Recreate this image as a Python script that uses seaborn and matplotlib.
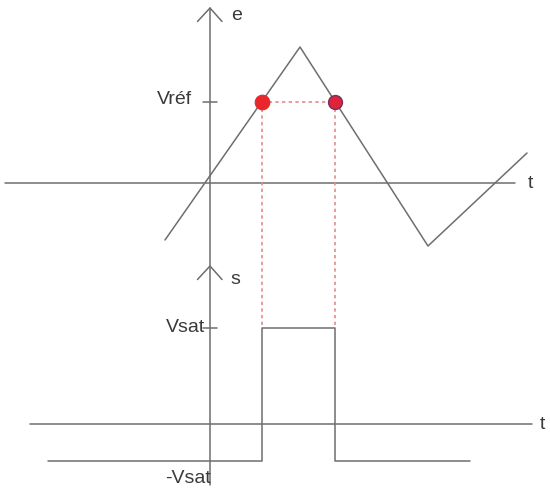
import numpy as np
import matplotlib
matplotlib.use("Agg")
import matplotlib.pyplot as plt
import seaborn as sns

# triangle input e(t)
tri_t = [-1.8, 3.6, 8.72, 12.68]
tri_e = [-2.28, 5.44, -2.52, 1.2]
v_ref = 3.24

# comparator output levels
v_sat = 3.84
v_sat_neg = -1.48
sq_t_start = -6.5
sq_t_end = 10.4

labels_top = ["e", "t", "Vréf"]
labels_bot = ["s", "t", "Vsat", "-Vsat"]

GRAY = "#6e6e6e"
TXT = "#3a3a3a"
RED = "#e8262c"
PINK = "#e58a8a"

TOP_YLIM = (-2.88, 7.32)
BOT_YLIM = (-2.64, 6.76)


def crossing_times():
    # where the triangle passes v_ref on the rising and falling edges
    t_on = np.interp(v_ref, tri_e[0:2], tri_t[0:2])
    t_off = np.interp(v_ref, tri_e[2:0:-1], tri_t[2:0:-1])
    return t_on, t_off


def draw_axes(ax, x0, x1, arrow_y, line_top, line_bot, tick_y, tlab_x):
    ax.plot([x0, x1], [0, 0], color=GRAY, lw=1.1)
    ax.plot([0, 0], [line_top, line_bot], color=GRAY, lw=1.1)
    ax.plot([-0.5, 0, 0.48], [arrow_y - 0.54, arrow_y, arrow_y - 0.54],
            color=GRAY, lw=1.1)
    ax.plot([-0.28, 0.28], [tick_y, tick_y], color=GRAY, lw=1.1)
    ax.text(tlab_x, 0, "t", ha="left", va="center", fontsize=14, color=TXT)


def main():
    sns.set_style("white")
    plt.rcParams["font.family"] = ["Liberation Sans", "DejaVu Sans"]

    fig = plt.figure(figsize=(5.5, 4.9), dpi=100)
    ax_top = fig.add_axes([0, 235 / 490, 1, 255 / 490])
    ax_bot = fig.add_axes([0, 0, 1, 235 / 490])
    for ax in (ax_top, ax_bot):
        ax.set_xlim(-8.4, 13.6)
        ax.set_axis_off()
    ax_top.set_ylim(*TOP_YLIM)
    ax_bot.set_ylim(*BOT_YLIM)

    t_on, t_off = crossing_times()

    # top: e(t)
    draw_axes(ax_top, -8.2, 12.2, 7.0, 7.0, TOP_YLIM[0], v_ref, 12.72)
    ax_top.text(0.84, 6.68, labels_top[0], ha="left", va="center",
                fontsize=14, color=TXT)
    ax_top.text(-0.72, v_ref + 0.1, labels_top[2], ha="right", va="center",
                fontsize=14, color=TXT)
    sns.lineplot(x=tri_t, y=tri_e, ax=ax_top, sort=False, estimator=None,
                 color=GRAY, lw=1.1)
    ax_top.plot([t_on, t_off], [v_ref, v_ref], color=PINK, lw=1.2,
                ls=(0, (2, 2)))
    for t in (t_on, t_off):
        ax_top.plot([t, t], [v_ref, TOP_YLIM[0]], color=PINK, lw=1.2,
                    ls=(0, (2, 2)))
    sns.scatterplot(x=[t_on], y=[v_ref], ax=ax_top, s=110, color=RED,
                    edgecolor=RED, zorder=5)
    sns.scatterplot(x=[t_off], y=[v_ref], ax=ax_top, s=100, color="#e0223a",
                    edgecolor="#74305e", linewidth=1, zorder=5)

    # bottom: s(t)
    draw_axes(ax_bot, -7.2, 12.88, 6.32, BOT_YLIM[1], -2.44, v_sat, 13.2)
    ax_bot.text(0.8, 5.76, labels_bot[0], ha="left", va="center",
                fontsize=14, color=TXT)
    ax_bot.text(-0.2, v_sat, labels_bot[2], ha="right", va="center",
                fontsize=14, color=TXT)
    ax_bot.text(-0.88, -2.16, labels_bot[3], ha="center", va="center",
                fontsize=14, color=TXT)
    for t in (t_on, t_off):
        ax_bot.plot([t, t], [BOT_YLIM[1], v_sat], color=PINK, lw=1.2,
                    ls=(0, (2, 2)))
    sq_t = [sq_t_start, t_on, t_off, sq_t_end]
    sq_s = [v_sat_neg, v_sat, v_sat_neg, v_sat_neg]
    sns.lineplot(x=sq_t, y=sq_s, ax=ax_bot, sort=False, estimator=None,
                 color=GRAY, lw=1.1, drawstyle="steps-post")

    fig.savefig("out.png", dpi=100)


if __name__ == "__main__":
    main()
